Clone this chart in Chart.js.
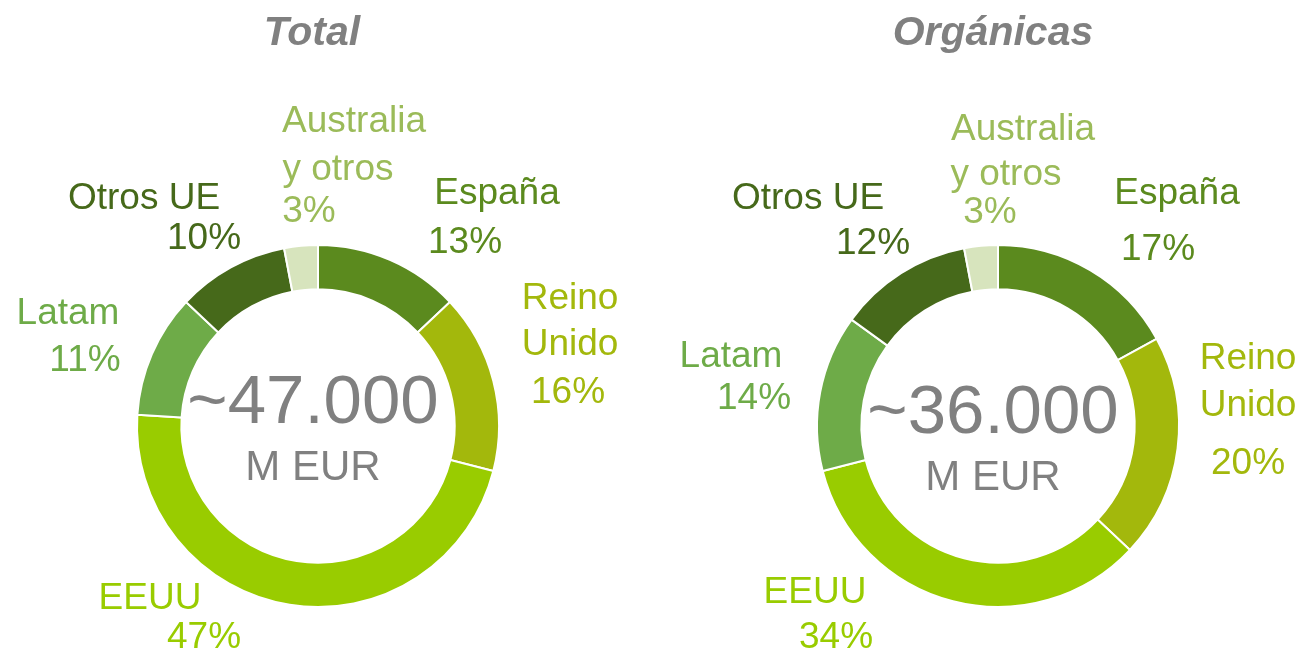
<!DOCTYPE html>
<html>
<head>
<meta charset="utf-8">
<script src="https://cdn.jsdelivr.net/npm/chart.js@4"></script>
<style>
  body { margin: 0; background: #fff; }
  .wrap { position: absolute; top: 0; width: 652px; height: 654px; }
</style>
</head>
<body>
<div class="wrap" style="left:0"><canvas id="total"></canvas></div>
<div class="wrap" style="left:652px"><canvas id="organicas"></canvas></div>
<script>
const categories = ['España', 'Reino Unido', 'EEUU', 'Latam', 'Otros UE', 'Australia y otros']
const totalValues = [13, 16, 47, 11, 10, 3]
const organicValues = [17, 20, 34, 14, 12, 3]
const titles = ['Total', 'Orgánicas']
const centerAmounts = ['~47.000', '~36.000']
const centerUnit = 'M EUR'

const sliceColors = ['#5B8A1E', '#A3B80C', '#99CC00', '#6EAB48', '#46691A', '#D7E4BD']
const labelColors = ['#5B8A1E', '#A3B80C', '#99CC00', '#6EAB48', '#46691A', '#9BBB59']
const grey = '#808080'

// centre of every text line, per slice (name lines then the percent line)
const labelPos = [
    [
        [[497, 194], [465, 243]],
        [[570, 299], [570, 345], [568, 393]],
        [[150, 599], [204, 638]],
        [[68, 314], [85, 361]],
        [[144, 199], [204, 239]],
        [[354, 122], [338, 170], [309, 212]]
    ],
    [
        [[525, 194], [506, 250]],
        [[596, 359], [596, 406], [596, 464]],
        [[163, 593], [184, 638]],
        [[79, 357], [102, 399]],
        [[156, 199], [221, 244]],
        [[371, 130], [354, 175], [338, 213]]
    ]
]

const textPlugin = {
    id: 'donutText',
    afterDraw(chart, args, opts) {
        const ctx = chart.ctx
        const meta = chart.getDatasetMeta(0)
        const arc = meta.data[0]
        const cx = arc.x, cy = arc.y
        const vals = chart.data.datasets[0].data
        const pos = labelPos[opts.idx]
        ctx.save()
        ctx.textAlign = 'center'
        ctx.textBaseline = 'middle'

        ctx.fillStyle = grey
        ctx.font = 'italic bold 41px "Liberation Sans", Arial, sans-serif'
        ctx.fillText(titles[opts.idx], opts.titleX, 34)

        ctx.font = '69px "Liberation Sans", Arial, sans-serif'
        ctx.fillText(centerAmounts[opts.idx], cx - 5, cy - 22 + opts.dy)
        ctx.font = '42px "Liberation Sans", Arial, sans-serif'
        ctx.fillText(centerUnit, cx - 5, cy + 42 + opts.dy)

        ctx.font = '37px "Liberation Sans", Arial, sans-serif'
        chart.data.labels.forEach((name, i) => {
            const p = pos[i]
            let lines = [name]
            if (p.length === 3) {
                const k = name.indexOf(' ')
                lines = [name.slice(0, k), name.slice(k + 1)]
            }
            lines.push(vals[i] + '%')
            ctx.fillStyle = labelColors[i]
            lines.forEach((t, j) => ctx.fillText(t, p[j][0], p[j][1]))
        })
        ctx.restore()
    }
}

function makeChart(id, values, idx, padding, titleX, dy) {
    return new Chart(document.getElementById(id), {
        type: 'doughnut',
        data: {
            labels: categories,
            datasets: [{
                data: values,
                backgroundColor: sliceColors,
                borderColor: '#ffffff',
                borderWidth: 2
            }]
        },
        options: {
            responsive: false,
            animation: false,
            cutout: '75.5%',
            layout: { padding: padding },
            plugins: {
                legend: { display: false },
                tooltip: { enabled: false },
                donutText: { idx: idx, titleX: titleX, dy: dy }
            }
        },
        plugins: [textPlugin]
    })
}

for (const id of ['total', 'organicas']) {
    const c = document.getElementById(id)
    c.width = 652
    c.height = 654
}

makeChart('total', totalValues, 0, { left: 136, right: 152, top: 244, bottom: 46 }, 312, 0)
makeChart('organicas', organicValues, 1, { left: 164, right: 124, top: 244, bottom: 46 }, 341, 10)
</script>
</body>
</html>
